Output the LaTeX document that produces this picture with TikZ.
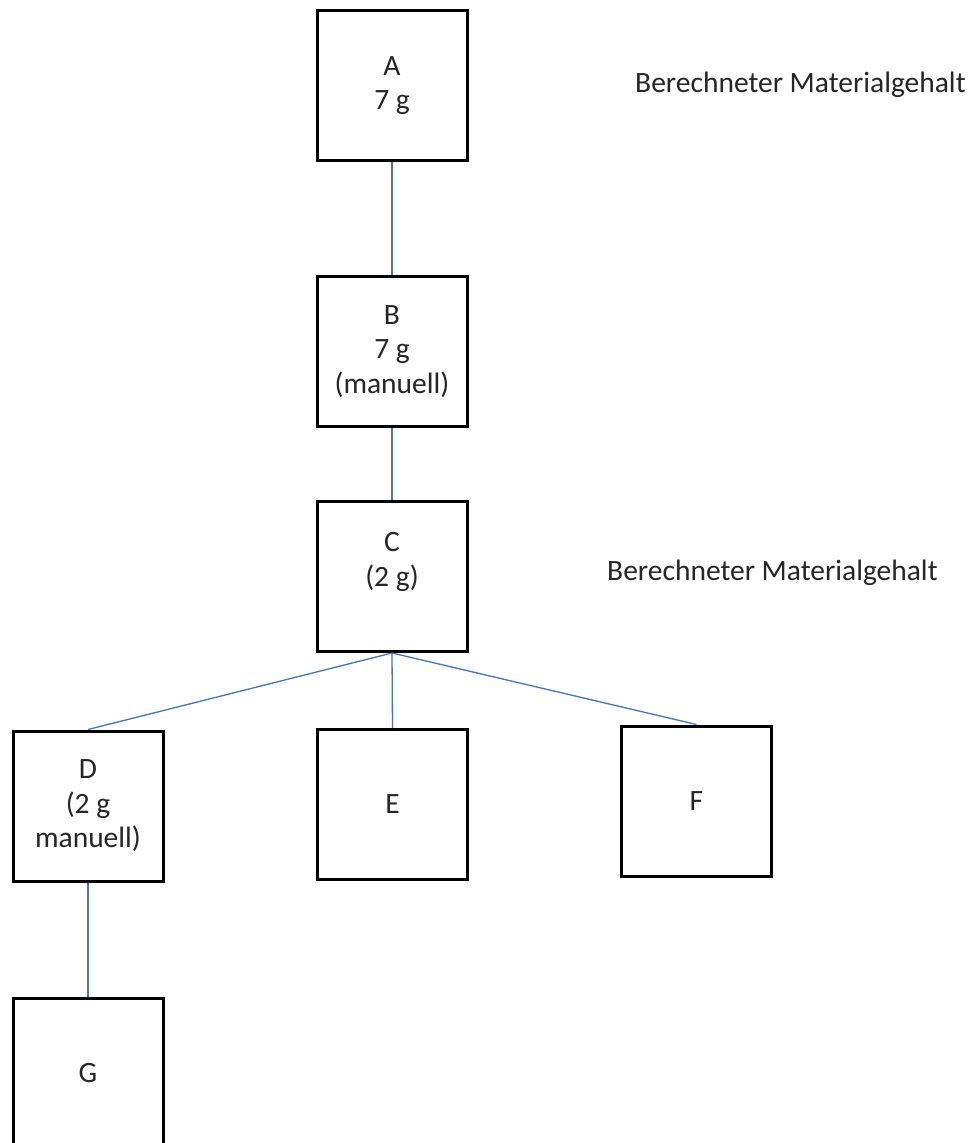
\documentclass[tikz,border=0pt]{standalone}
\usepackage{fontspec}
\setmainfont{Carlito}
\definecolor{linkblue}{HTML}{4472C4}
\definecolor{txt}{HTML}{262626}
\tikzset{
  box/.style={draw=black, line width=3pt, rectangle, minimum width=150pt, minimum height=150pt,
    inner sep=0pt, align=center, text=txt, font=\fontsize{29.5}{34.5}\selectfont},
  link/.style={draw=linkblue, line width=1.3pt},
  lbl/.style={anchor=base west, inner sep=0pt, text=txt, font=\fontsize{29.5}{34.5}\selectfont}
}
\begin{document}
\begin{tikzpicture}[x=1pt, y=-1pt]
\clip (0,0) rectangle (971,1143);
\fill[white] (0,0) rectangle (971,1143);
\node[box] (A) at (392,85.5) {A\\7 g};
\node[box] (B) at (392,351.5) {B\\7 g\\(manuell)};
\node[box] (C) at (392,576.5) {C\\(2 g)\\\mbox{}};
\node[box] (D) at (88,806) {D\\(2 g\\manuell)};
\node[box] (E) at (392.5,804.5) {E};
\node[box] (F) at (696.5,801) {F};
\node[box] (G) at (88,1073) {G};
\node[lbl] (L1) at (635,92) {Berechneter Materialgehalt};
\node[lbl] (L2) at (607,580) {Berechneter Materialgehalt};
\draw[link] (A.south) -- (B.north);
\draw[link] (B.south) -- (C.north);
\draw[link] (C.south) -- (D.north);
\draw[link] (C.south) -- (E.north);
\draw[link] (C.south) -- (F.north);
\draw[link] (D.south) -- (G.north);
\end{tikzpicture}
\end{document}
